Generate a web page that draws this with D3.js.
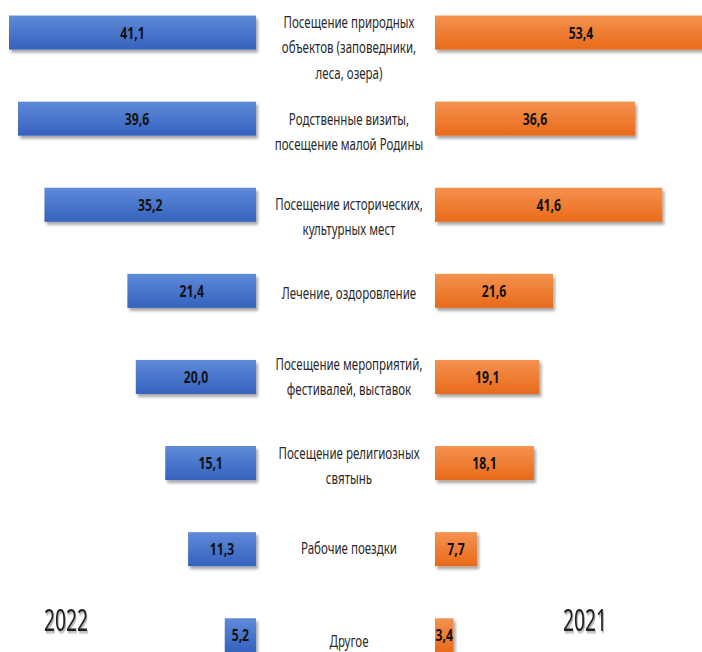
<!DOCTYPE html>
<html>
<head>
<meta charset="utf-8">
<script src="https://cdn.jsdelivr.net/npm/d3@7"></script>
<style>
  body { margin: 0; background: #fff; overflow: hidden; }
  text { font-family: "Noto Sans", "DejaVu Sans", sans-serif; }
</style>
</head>
<body>
<script>
// categories (center labels), line breaks kept as in the picture
const categories = [
    "Посещение природных|объектов (заповедники,|леса, озера)",
    "Родственные визиты,|посещение малой Родины",
    "Посещение исторических,|культурных мест",
    "Лечение, оздоровление",
    "Посещение мероприятий,|фестивалей, выставок",
    "Посещение религиозных|святынь",
    "Рабочие поездки",
    "Другое"
];
const values2022 = [41.1, 39.6, 35.2, 21.4, 20.0, 15.1, 11.3, 5.2];
const values2021 = [53.4, 36.6, 41.6, 21.6, 19.1, 18.1, 7.7, 3.4];
const years = ["2022", "2021"];

function main(){
    const width = 702;
    const height = 652;
    const squeeze = 0.72; // the picture's text is narrow (condensed)

    const svg = d3.select("body").append("svg")
        .attr("width", width)
        .attr("height", height);

    const defs = svg.append("defs");

    //gradients for the bars
    const blue = defs.append("linearGradient").attr("id", "gBlue")
        .attr("x1", 0).attr("y1", 0).attr("x2", 0).attr("y2", 1);
    blue.append("stop").attr("offset", "0%").attr("stop-color", "#5f8ada");
    blue.append("stop").attr("offset", "100%").attr("stop-color", "#3462bd");

    const orange = defs.append("linearGradient").attr("id", "gOrange")
        .attr("x1", 0).attr("y1", 0).attr("x2", 0).attr("y2", 1);
    orange.append("stop").attr("offset", "0%").attr("stop-color", "#f5924f");
    orange.append("stop").attr("offset", "100%").attr("stop-color", "#e86a1a");

    const shadow = defs.append("filter").attr("id", "shadow")
        .attr("x", "-10%").attr("y", "-20%").attr("width", "130%").attr("height", "160%");
    shadow.append("feDropShadow")
        .attr("dx", 2).attr("dy", 3).attr("stdDeviation", 1.6)
        .attr("flood-color", "#000").attr("flood-opacity", 0.35);

    const textShadow = defs.append("filter").attr("id", "tshadow");
    textShadow.append("feDropShadow")
        .attr("dx", 1.5).attr("dy", 2).attr("stdDeviation", 1)
        .attr("flood-color", "#000").attr("flood-opacity", 0.35);

    const idx = d3.range(categories.length);

    const yScale = d3.scaleBand()
        .domain(idx)
        .range([-10.5, 678.3])
        .paddingInner(0.605)
        .paddingOuter(0.3025);

    // left side grows to the left from the middle gap
    const xLeft = d3.scaleLinear().domain([0, 41.1]).range([256, 9]);
    const xRight = d3.scaleLinear().domain([0, 36.6]).range([435, 635]);
    const fmt = v => d3.format(".1f")(v).replace(".", ",");
    const place = (x, y, s) => "translate(" + x + "," + y + ") scale(" + s + ",1)";

    //left bars (2022)
    const left = svg.append("g").attr("class", "left");
    left.selectAll("rect")
        .data(values2022)
        .enter().append("rect")
        .attr("x", d => xLeft(d))
        .attr("y", (d, i) => yScale(i))
        .attr("width", d => xLeft(0) - xLeft(d))
        .attr("height", yScale.bandwidth())
        .attr("fill", "url(#gBlue)")
        .attr("filter", "url(#shadow)");

    left.selectAll("text")
        .data(values2022)
        .enter().append("text")
        .attr("transform", (d, i) => place((xLeft(d) + xLeft(0)) / 2, yScale(i) + yScale.bandwidth() / 2, 0.74))
        .attr("dy", "0.36em")
        .attr("text-anchor", "middle")
        .attr("font-size", "16.5px")
        .attr("font-weight", "bold")
        .attr("fill", "#111")
        .text(fmt);

    //right bars (2021)
    const right = svg.append("g").attr("class", "right");
    right.selectAll("rect")
        .data(values2021)
        .enter().append("rect")
        .attr("x", xRight(0))
        .attr("y", (d, i) => yScale(i))
        .attr("width", d => xRight(d) - xRight(0))
        .attr("height", yScale.bandwidth())
        .attr("fill", "url(#gOrange)")
        .attr("filter", "url(#shadow)");

    right.selectAll("text")
        .data(values2021)
        .enter().append("text")
        .attr("transform", (d, i) => place((xRight(0) + Math.min(xRight(d), width + 27)) / 2, yScale(i) + yScale.bandwidth() / 2, 0.74))
        .attr("dy", "0.36em")
        .attr("text-anchor", "middle")
        .attr("font-size", "16.5px")
        .attr("font-weight", "bold")
        .attr("fill", "#111")
        .text(fmt);

    //category labels in the middle (first rows sit a bit lower in the picture)
    const lineH = 25.5;
    const nudge = [12, 10, 9, 0, -3, 0, -4, 3];
    const labels = svg.append("g").attr("class", "labels");
    categories.forEach((c, i) => {
        const lines = c.split("|");
        const cy = yScale(i) + yScale.bandwidth() / 2 + 3 + nudge[i];
        const t = labels.append("text")
            .attr("transform", place(349, cy, squeeze))
            .attr("text-anchor", "middle")
            .attr("font-size", "16px")
            .attr("fill", "#2a2a2a");
        lines.forEach((l, j) => {
            t.append("tspan")
                .attr("x", 0)
                .attr("y", (j - (lines.length - 1) / 2) * lineH)
                .attr("dy", "0.35em")
                .text(l);
        });
    });

    //year titles
    svg.selectAll(".year")
        .data(years)
        .enter().append("text")
        .attr("class", "year")
        .attr("transform", (d, i) => place(i === 0 ? 66 : 585, 620, 0.64))
        .attr("dy", "0.36em")
        .attr("text-anchor", "middle")
        .attr("font-size", "30px")
        .attr("fill", "#222")
        .attr("filter", "url(#tshadow)")
        .text(d => d);
}
main();
</script>
</body>
</html>
